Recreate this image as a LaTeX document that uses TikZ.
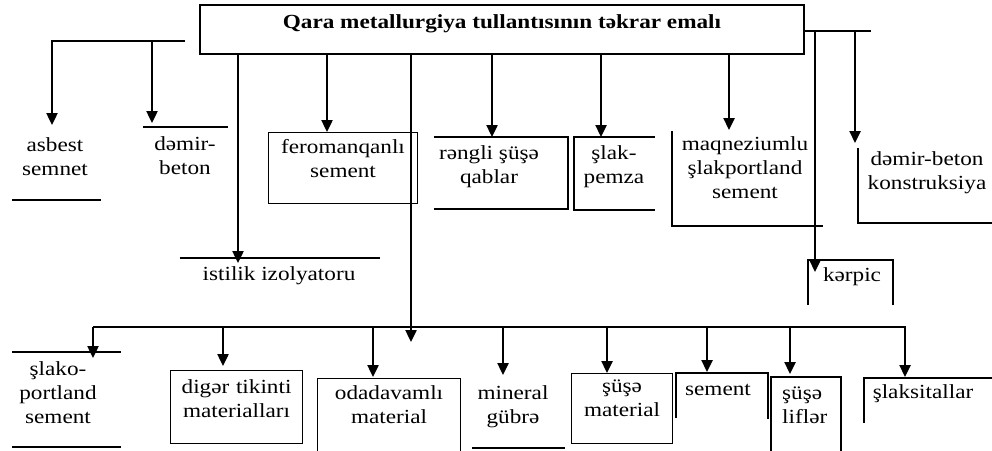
\documentclass[tikz,border=0pt]{standalone}
\usepackage{fontspec}
\setmainfont{Liberation Serif}[FakeStretch=1.16]
\usepackage{tikz}
\usetikzlibrary{arrows.meta}

\begin{document}
\begin{tikzpicture}[x=1pt,y=-1pt,>={Triangle[length=12pt,width=11pt]}]
	\tikzstyle{every node} = [font=\fontsize{20}{24}\selectfont,inner sep=0pt]
	\tikzstyle{conn} = [line width=2.2pt]
	\tikzstyle{arr} = [->,line width=2.4pt]
	\tikzstyle{frame} = [line width=1.1pt]
	\tikzstyle{txt} = [align=center,anchor=base]
	\tikzstyle{box} = [draw,frame,align=center,anchor=north west]
	\useasboundingbox (0,0) rectangle (992,450);

	% head
	\node[draw,line width=1.6pt,anchor=north,minimum width=604pt,text height=24pt,text depth=25pt,font=\fontsize{20}{24}\selectfont\bfseries] (title) at (502,4) {Qara metallurgiya tullantısının təkrar emalı};
	\coordinate (lrow) at (185,41);
	\coordinate (rrow) at (871,31);
	\coordinate (brow) at (906,327);

	% upper items (base = last line)
	\node[txt] (asb) at (55,175) {asbest\\semnet};
	\node[txt] (dm) at (185,174) {dəmir-\\beton};
	\node[box,text width=149pt,text height=21pt,text depth=50pt] (fer) at (268,132) {feromanqanlı\\sement};
	\node[txt] (isz) at (279,280) {istilik izolyatoru};
	\node[txt] (rsq) at (489,183) {rəngli şüşə\\qablar};
	\node[txt] (spz) at (614,183) {şlak-\\pemza};
	\node[txt] (mag) at (745,198) {maqneziumlu\\şlakportland\\sement};
	\node[txt] (dbk) at (927,189) {dəmir-beton\\konstruksiya};
	\node[txt] (krp) at (852,281) {kərpic};

	% lower items
	\node[txt] (slp) at (58,423) {şlako-\\portland\\sement};
	\node[box,text width=132pt,text height=23pt,text depth=50pt] (dgr) at (170,370) {digər tikinti\\materialları};
	\node[box,text width=143pt,text height=21pt,text depth=80pt] (oda) at (317,378) {odadavamlı\\material};
	\node[txt] (mgb) at (513,423) {mineral\\gübrə};
	\node[box,text width=101pt,text height=19pt,text depth=51pt] (smt) at (571,373) {şüşə\\material};
	\node[txt] (sem) at (718,395) {sement};
	\node[txt,align=left,anchor=base west] (sl) at (782,423) {şüşə\\liflər};
	\node[txt] (sks) at (923,398) {şlaksitallar};

	% open frames
	\draw[frame] (12,200) -- (101,200);
	\draw[frame] (143,127) -- (228,127);
	\draw[frame] (180,258) -- (380,258);
	\draw[frame] (434,137) -- (568,137) -- (568,209) -- (434,209);
	\draw[frame] (655,137) -- (574,137) -- (574,210) -- (655,210);
	\draw[frame] (672,131) -- (672,226) -- (823,226);
	\draw[frame] (858,148) -- (858,223) -- (992,223);
	\draw[frame] (808,305) -- (808,260) -- (893,260) -- (893,305);
	\draw[frame] (12,352) -- (121,352);
	\draw[frame] (12,447) -- (121,447);
	\draw[frame] (472,448) -- (565,448);
	\draw[frame] (676,418) -- (676,373) -- (768,373) -- (768,419);
	\draw[frame] (771,455) -- (771,377) -- (841,377) -- (841,455);
	\draw[frame] (864,423) -- (864,378) -- (992,378);

	% arrow ends
	\coordinate (in-asb) at (52,125);
	\coordinate (in-dm) at (152,123);
	\coordinate (in-isz) at (238,263);
	\coordinate (in-fer) at (327,132);
	\coordinate (in-low) at (411,342);
	\coordinate (in-rsq) at (492,137);
	\coordinate (in-spz) at (601,137);
	\coordinate (in-mag) at (729,130);
	\coordinate (in-krp) at (815,272);
	\coordinate (in-dbk) at (855,143);
	\coordinate (in-slp) at (93,358);
	\coordinate (in-dgr) at (223,366);
	\coordinate (in-oda) at (373,377);
	\coordinate (in-mgb) at (503,375);
	\coordinate (in-smt) at (607,373);
	\coordinate (in-sem) at (707,372);
	\coordinate (in-sl) at (790,374);
	\coordinate (in-sks) at (905,377);

	% connectors
	\draw[arr] (lrow) -| (in-asb);
	\draw[arr] (lrow -| in-dm) -- (in-dm);
	\foreach \t in {isz,fer,low,rsq,spz,mag}
		\draw[arr] (title.south -| in-\t) -- (in-\t);
	\draw[conn] (title.east |- rrow) -- (rrow);
	\foreach \t in {krp,dbk}
		\draw[arr] (rrow -| in-\t) -- (in-\t);
	\draw[conn] (in-slp |- brow) -- (brow);
	\foreach \t in {slp,dgr,oda,mgb,smt,sem,sl,sks}
		\draw[arr] (brow -| in-\t) -- (in-\t);
\end{tikzpicture}
\end{document}
